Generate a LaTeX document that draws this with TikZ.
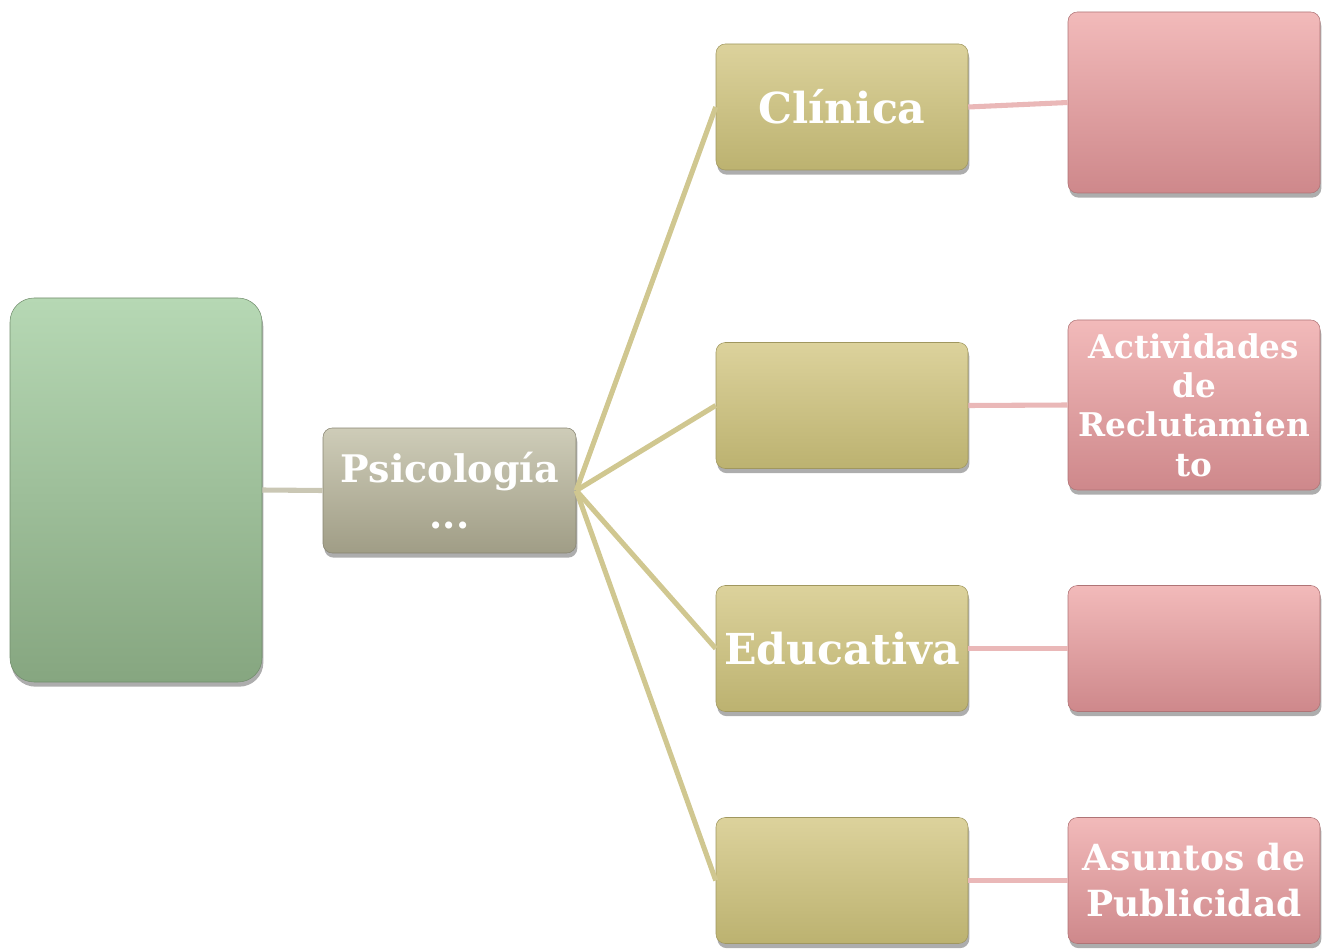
\documentclass[tikz,border=0pt]{standalone}
\usepackage{fontspec}
\setmainfont{DejaVu Serif}
\usetikzlibrary{shadows}

\definecolor{oliveT}{RGB}{220,210,156}
\definecolor{oliveB}{RGB}{188,178,112}
\definecolor{pinkT}{RGB}{242,186,186}
\definecolor{pinkB}{RGB}{206,136,139}
\definecolor{greenT}{RGB}{182,216,180}
\definecolor{greenB}{RGB}{134,166,128}
\definecolor{greyT}{RGB}{206,204,184}
\definecolor{greyB}{RGB}{160,157,134}
\definecolor{oliveline}{RGB}{208,199,144}
\definecolor{pinkline}{RGB}{234,184,184}
\definecolor{greyline}{RGB}{202,199,180}

\tikzset{
  box/.style={rectangle,rounded corners=7pt,align=center,text=white,
    font=\bfseries,inner sep=2pt,
    drop shadow={shadow xshift=1pt,shadow yshift=-3.5pt,opacity=.4,fill=black!80}},
  olivebox/.style={box,top color=oliveT,bottom color=oliveB,draw=oliveB!85!black,
    minimum width=189pt,minimum height=94.5pt,font=\bfseries\fontsize{32}{36}\selectfont},
  pinkbox/.style={box,top color=pinkT,bottom color=pinkB,draw=pinkB!85!black,minimum width=189pt},
  link/.style={line width=3.8pt}
}

\begin{document}
\begin{tikzpicture}[x=0.75pt,y=-0.75pt]
\useasboundingbox (0,0) rectangle (1335,952);

\node[box,rounded corners=18pt,top color=greenT,bottom color=greenB,draw=greenB!85!black,
  minimum width=189pt,minimum height=288pt] (g) at (136,490) {};
\node[box,top color=greyT,bottom color=greyB,draw=greyB!85!black,minimum width=189.75pt,
  minimum height=93.75pt,font=\bfseries\fontsize{28.5}{34}\selectfont] (p) at (449.5,490.5) {Psicología\\...};

\node[olivebox] (c1) at (842,107) {Clínica};
\node[olivebox] (c2) at (842,405.5) {};
\node[olivebox] (c3) at (842,648.5) {Educativa};
\node[olivebox] (c4) at (842,880.5) {};

\node[pinkbox,minimum height=135.75pt] (r1) at (1194,102.5) {};
\node[pinkbox,minimum height=127.5pt,font=\bfseries\fontsize{24.5}{29.5}\selectfont] (r2) at (1194,405)
  {Actividades\\de\\Reclutamien\\to};
\node[pinkbox,minimum height=94.5pt] (r3) at (1194,648.5) {};
\node[pinkbox,minimum height=94.5pt,font=\bfseries\fontsize{27}{34.5}\selectfont] (r4) at (1194,880.5)
  {Asuntos de\\Publicidad};

\path[link,greyline] (g.east) edge (p.west);
\path[link,oliveline] (p.east) edge (c1.west);
\path[link,oliveline] (p.east) edge (c2.west);
\path[link,oliveline] (p.east) edge (c3.west);
\path[link,oliveline] (p.east) edge (c4.west);
\path[link,pinkline] (c1.east) edge (r1.west);
\path[link,pinkline] (c2.east) edge (r2.west);
\path[link,pinkline] (c3.east) edge (r3.west);
\path[link,pinkline] (c4.east) edge (r4.west);
\end{tikzpicture}
\end{document}
